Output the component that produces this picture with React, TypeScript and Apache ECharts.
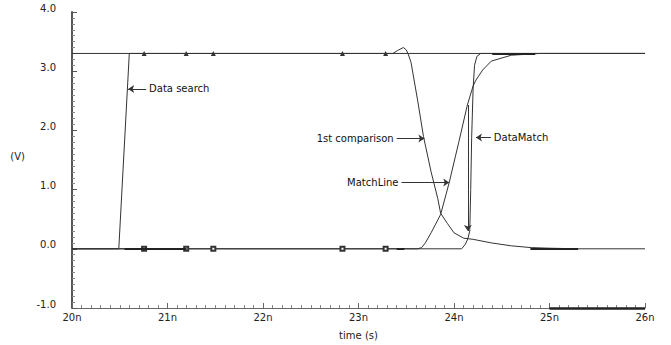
import React, { useEffect, useRef } from "react";
import * as echarts from "echarts";

// time axis in ns, voltage in V
const xTicks = [20, 21, 22, 23, 24, 25, 26];
const yTicks = [-1, 0, 1, 2, 3, 4];
const markerTimes = [20.755, 21.196, 21.48, 22.832, 23.284];

const dataSearchT = [20, 20.49, 20.6, 26];
const dataSearchV = [0, 0, 3.3, 3.3];

const firstCompT = [23.36, 23.41, 23.47, 23.5, 23.52, 23.55, 23.58, 23.62, 23.68, 23.76, 23.83, 23.86, 23.93, 24.0, 24.1, 24.2, 24.39, 24.6, 24.81, 25.0, 25.3, 26];
const firstCompV = [3.3, 3.35, 3.4, 3.36, 3.29, 3.15, 2.87, 2.5, 1.9, 1.3, 0.85, 0.6, 0.43, 0.27, 0.18, 0.16, 0.1, 0.05, 0.02, 0.01, 0, 0];

const matchLineT = [23.62, 23.66, 23.7, 23.76, 23.86, 23.95, 24.05, 24.14, 24.2, 24.23, 24.3, 24.39, 24.6, 24.9, 26];
const matchLineV = [0, 0.02, 0.1, 0.27, 0.58, 1.12, 1.8, 2.43, 2.75, 2.85, 3.02, 3.17, 3.27, 3.3, 3.3];

const dataMatchT = [20, 24.08, 24.12, 24.145, 24.165, 24.175, 24.185, 24.2, 24.215, 24.24, 24.28, 26];
const dataMatchV = [0, 0, 0.08, 0.17, 0.3, 1.0, 1.88, 2.7, 3.1, 3.25, 3.3, 3.3];

// spans where overlapping traces draw heavier on the baseline / rail
const heavyLow = [[20.55, 21.2], [23.4, 23.48], [24.8, 25.3]];
const heavyHigh = [[24.4, 24.85]];

const FONT = "DejaVu Sans";
const LINE = "#333";

const zip = (t: number[], v: number[]) => t.map((x, i) => [x, v[i]]);

const annLabel = {
  show: true,
  position: "start",
  formatter: "{b}",
  distance: 3,
  fontSize: 10,
  fontFamily: FONT,
  color: "#111",
};

const heavy = (x0: number, x1: number, y: number, w = 2) => [
  { coord: [x0, y], symbol: "none", lineStyle: { width: w, color: "#222" }, label: { show: false } },
  { coord: [x1, y], symbol: "none" },
];

export default function App() {
  const ref = useRef<HTMLDivElement>(null);
  useEffect(() => {
    document.body.style.margin = "0";
    const chart = echarts.init(ref.current!, null, { renderer: "svg" });
    const firstData: any[] = [
      [20, 3.3],
      ...markerTimes.map((t) => ({ value: [t, 3.3], symbol: "triangle", symbolSize: 5 })),
      ...zip(firstCompT, firstCompV),
    ];
    const matchData: any[] = [
      [20, 0],
      ...markerTimes.map((t) => ({ value: [t, 0], symbol: "emptyRect", symbolSize: 4 })),
      ...zip(matchLineT, matchLineV),
    ];
    const base = {
      type: "line",
      symbol: "none",
      showAllSymbol: true,
      lineStyle: { color: LINE, width: 1 },
      itemStyle: { color: LINE, borderWidth: 1 },
      emphasis: { disabled: true },
      silent: true,
    };
    const ml = (items: any[]) => ({
      silent: true,
      symbol: ["none", "arrow"],
      symbolSize: 6,
      lineStyle: { color: LINE, width: 1, type: "solid" },
      label: annLabel,
      emphasis: { disabled: true },
      data: items,
    });
    chart.setOption({
      animation: false,
      textStyle: { fontFamily: FONT },
      grid: { left: 72, right: 26, top: 12, bottom: 32 },
      xAxis: {
        type: "value",
        min: xTicks[0],
        max: xTicks[xTicks.length - 1],
        interval: 1,
        name: "time (s)",
        nameLocation: "middle",
        nameGap: 22,
        nameTextStyle: { fontSize: 10, color: "#222", fontFamily: FONT },
        axisLine: { show: true, onZero: false, lineStyle: { color: "#666", width: 1 } },
        axisTick: { show: true, inside: true, length: 5, lineStyle: { color: "#666" } },
        minorTick: { show: true, splitNumber: 10, length: 3, lineStyle: { color: "#888" } },
        splitLine: { show: false },
        axisLabel: {
          fontSize: 10,
          color: "#222",
          margin: 4,
          fontFamily: FONT,
          formatter: (v: number) => `${v}n`,
        },
      },
      yAxis: {
        type: "value",
        min: yTicks[0],
        max: yTicks[yTicks.length - 1],
        interval: 1,
        name: "(V)",
        nameLocation: "middle",
        nameRotate: 0,
        nameGap: 47,
        nameTextStyle: { fontSize: 10, color: "#222", fontFamily: FONT, verticalAlign: "bottom", lineHeight: 8 },
        axisLine: { show: true, onZero: false, lineStyle: { color: "#555", width: 2 } },
        axisTick: { show: true, inside: true, length: 5, lineStyle: { color: "#555" } },
        minorTick: { show: true, splitNumber: 10, length: 3, lineStyle: { color: "#888" } },
        splitLine: { show: false },
        axisLabel: {
          fontSize: 10,
          color: "#222",
          margin: 16,
          fontFamily: FONT,
          verticalAlign: "bottom",
          lineHeight: 8,
          formatter: (v: number) => v.toFixed(1),
        },
      },
      series: [
        {
          ...base,
          name: "Data search",
          data: zip(dataSearchT, dataSearchV),
          markLine: ml([
            [{ name: "Data search", coord: [20.776, 2.7] }, { coord: [20.588, 2.7] }],
            heavy(25, 26, -1, 2.5),
            ...heavyLow.map(([a, b]) => heavy(a, b, 0)),
            ...heavyHigh.map(([a, b]) => heavy(a, b, 3.3)),
          ]),
        },
        {
          ...base,
          name: "1st comparison",
          data: firstData,
          markLine: ml([[{ name: "1st comparison", coord: [23.4, 1.865] }, { coord: [23.69, 1.865] }]]),
        },
        {
          ...base,
          name: "MatchLine",
          data: matchData,
          markLine: ml([
            [{ name: "MatchLine", coord: [23.45, 1.12] }, { coord: [23.95, 1.12] }],
            [{ coord: [24.145, 2.43], label: { show: false } }, { coord: [24.145, 0.3] }],
          ]),
        },
        {
          ...base,
          name: "DataMatch",
          data: zip(dataMatchT, dataMatchV),
          markLine: ml([[{ name: "DataMatch", coord: [24.386, 1.88] }, { coord: [24.23, 1.88] }]]),
        },
      ],
    });
    return () => chart.dispose();
  }, []);
  return <div ref={ref} style={{ width: 671, height: 345 }} />;
}
